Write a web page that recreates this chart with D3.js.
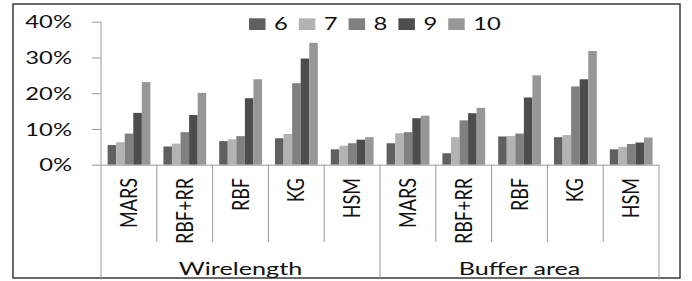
<!DOCTYPE html>
<html lang="en">
<head>
<meta charset="UTF-8">
<title>Wirelength / Buffer area</title>
<style>
  body { margin: 0; background: #fff; }
  text { font-family: Lato, "Open Sans", sans-serif; fill: #111; }
</style>
</head>
<body>
<svg id="chart" width="692" height="281"></svg>

<script src="https://d3js.org/d3.v7.min.js"></script>
<script>
// data
var groups = ["Wirelength", "Buffer area"];
var methods = ["MARS", "RBF+RR", "RBF", "KG", "HSM"];
var series = ["6", "7", "8", "9", "10"];
var colors = ["#606060", "#b3b3b3", "#808080", "#4d4d4d", "#979797"];
var yTicks = [0, 0.1, 0.2, 0.3, 0.4];

// one row per method, five values (series 6..10)
var wirelength = [
  [0.055, 0.063, 0.087, 0.145, 0.231],
  [0.051, 0.059, 0.091, 0.139, 0.201],
  [0.066, 0.071, 0.080, 0.186, 0.239],
  [0.074, 0.086, 0.228, 0.297, 0.341],
  [0.043, 0.053, 0.060, 0.070, 0.077]
];
var bufferArea = [
  [0.060, 0.088, 0.091, 0.130, 0.137],
  [0.032, 0.077, 0.124, 0.144, 0.159],
  [0.079, 0.080, 0.087, 0.188, 0.250],
  [0.077, 0.083, 0.219, 0.239, 0.318],
  [0.043, 0.050, 0.058, 0.062, 0.076]
];

var rows = [];
[wirelength, bufferArea].forEach(function(tab, g){
  methods.forEach(function(m, i){
    rows.push({key: groups[g] + "|" + m, group: groups[g], method: m, values: tab[i]});
  });
});

var svg = d3.select("#chart");

// plot area (window.top is taken, so yTop)
var xLeft = 101, xRight = 659, yTop = 21.7, yBase = 164.7;
var x0 = d3.scaleBand().domain(rows.map(function(d){ return d.key; })).range([xLeft, xRight]);
var x1 = d3.scaleBand().domain(series).range([6.6, 49.4]);
var y = d3.scaleLinear().domain([0, 0.4]).range([yBase, yTop]);
var color = d3.scaleOrdinal().domain(series).range(colors);

// outer frame
svg.append("rect")
  .attr("x", 13).attr("y", 4).attr("width", 667).attr("height", 274)
  .attr("fill", "none").attr("stroke", "#3a3a3a").attr("stroke-width", 1.5);

// bars
var cat = svg.append("g").selectAll("g").data(rows).join("g")
  .attr("transform", function(d){ return "translate(" + x0(d.key) + ",0)"; });

cat.selectAll("rect")
  .data(function(d){ return d.values.map(function(v, i){ return {s: series[i], v: v}; }); })
  .join("rect")
  .attr("x", function(d){ return x1(d.s); })
  .attr("width", x1.bandwidth())
  .attr("y", function(d){ return y(d.v); })
  .attr("height", function(d){ return yBase - y(d.v); })
  .attr("fill", function(d){ return color(d.s); });

// y axis
var yAxis = svg.append("g")
  .attr("transform", "translate(" + xLeft + ",0)")
  .call(d3.axisLeft(y).tickValues(yTicks).tickSize(9).tickPadding(0));
yAxis.select(".domain").attr("stroke", "#9a9a9a").attr("d", "M0," + yTop + "V" + yBase);
yAxis.selectAll(".tick line").attr("stroke", "#9a9a9a");
yAxis.selectAll(".tick text").remove();
yAxis.selectAll(".tick").append("text")
  .attr("text-anchor", "end")
  .attr("font-size", 17)
  .attr("transform", "translate(-29,6.2) scale(1.4,1)")
  .text(function(d){ return d3.format(".0%")(d); });

// x axis line and separators
svg.append("line")
  .attr("x1", xLeft).attr("x2", xRight).attr("y1", yBase + 0.5).attr("y2", yBase + 0.5)
  .attr("stroke", "#9a9a9a");

var bounds = d3.range(rows.length + 1);
svg.append("g").selectAll("line").data(bounds).join("line")
  .attr("x1", function(i){ return xLeft + i * x0.bandwidth(); })
  .attr("x2", function(i){ return xLeft + i * x0.bandwidth(); })
  .attr("y1", yBase)
  .attr("y2", function(i){ return i % methods.length == 0 ? 278 : 242; })
  .attr("stroke", "#9a9a9a");

// method labels (rotated)
svg.append("g").selectAll("text").data(rows).join("text")
  .attr("text-anchor", "end")
  .attr("font-size", 18)
  .attr("transform", function(d){
    return "translate(" + (x0(d.key) + x0.bandwidth() / 2 + 8) + ",178) scale(1.25,1) rotate(-90)";
  })
  .text(function(d){ return d.method; });

// group labels
svg.append("g").selectAll("text").data(groups).join("text")
  .attr("text-anchor", "middle")
  .attr("font-size", 18)
  .attr("transform", function(g, i){
    var a = xLeft + i * 5 * x0.bandwidth(), b = a + 5 * x0.bandwidth();
    return "translate(" + ((a + b) / 2) + ",275) scale(1.4,1)";
  })
  .text(function(g){ return g; });

// legend
var leg = svg.append("g").selectAll("g").data(series).join("g")
  .attr("transform", function(d, i){ return "translate(" + (249 + i * 49.8) + ",0)"; });
leg.append("rect")
  .attr("y", 18.3).attr("width", 16.5).attr("height", 11.7)
  .attr("fill", function(d){ return color(d); });
leg.append("text")
  .attr("font-size", 17)
  .attr("transform", "translate(25,30) scale(1.4,1)")
  .text(function(d){ return d; });
</script>
</body>
</html>
